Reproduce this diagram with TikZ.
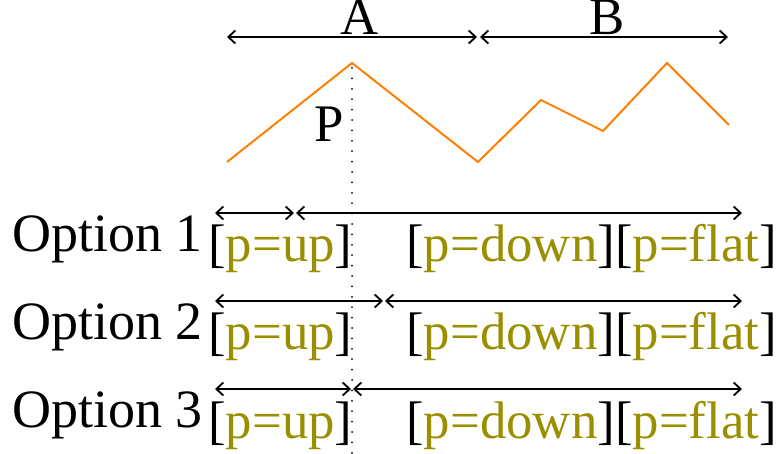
\documentclass[tikz,border=0pt]{standalone}
\usepackage{fontspec}
\setmainfont{Liberation Serif}
\usetikzlibrary{arrows.meta}
\definecolor{olivetext}{RGB}{153,143,0}
\definecolor{curveorange}{RGB}{255,128,0}
\begin{document}
\begin{tikzpicture}[x=0.5pt,y=-0.5pt,
  lbl/.style={inner sep=0pt,font=\fontsize{26.4}{31}\selectfont},
  optlbl/.style={inner sep=0pt,font=\fontsize{27}{32}\selectfont},
  span/.style={line width=0.9pt,{Straight Barb[length=3.5pt,width=6.5pt]}-{Straight Barb[length=3.5pt,width=6.5pt]}},
  curve/.style={curveorange,line width=1pt,line join=miter},
  guide/.style={line width=1pt,line cap=round,dash pattern=on 0pt off 5.2pt}]
\useasboundingbox (0,0) rectangle (777,454);
% top spans
\coordinate (a1) at (227,37);
\coordinate (a2) at (477,37);
\coordinate (b1) at (480,37);
\coordinate (b2) at (728,37);
\draw[span] (a1) -- (a2);
\draw[span] (b1) -- (b2);
\node[lbl,anchor=base] (A) at (360,35) {A};
\node[lbl,anchor=base] (B) at (607,35) {B};
% curve
\coordinate (c0) at (227,162);
\coordinate (c1) at (352,63);
\coordinate (c2) at (478,162);
\coordinate (c3) at (541,100);
\coordinate (c4) at (603,131);
\coordinate (c5) at (667,63);
\coordinate (c6) at (729,125);
\draw[curve] (c0) -- (c1) -- (c2) -- (c3) -- (c4) -- (c5) -- (c6);
\node[lbl,anchor=base] (P) at (329,142) {P};
% dotted guide
\coordinate (g0) at (352,68);
\coordinate (g1) at (352,454);
\draw[guide] (g0) -- (g1);
% option rows
\foreach \i/\y/\m in {1/213/295, 2/301/384, 3/389/352}{
  \coordinate (l\i) at (215,\y);
  \coordinate (m\i a) at (\m-1,\y);
  \coordinate (m\i b) at (\m+1,\y);
  \coordinate (r\i) at (742,\y);
  \draw[span] (l\i) -- (m\i a);
  \draw[span] (m\i b) -- (r\i);
  \node[optlbl,anchor=base east] (opt\i) at (203,\y+39) {Option \i};
  \node[lbl,anchor=base west] (up\i) at (208,\y+49) {[{\color{olivetext}p=up}]};
  \node[lbl,anchor=base west] (rest\i) at (406,\y+49) {[{\color{olivetext}p=down}][{\color{olivetext}p=flat}]};
}
\end{tikzpicture}
\end{document}
